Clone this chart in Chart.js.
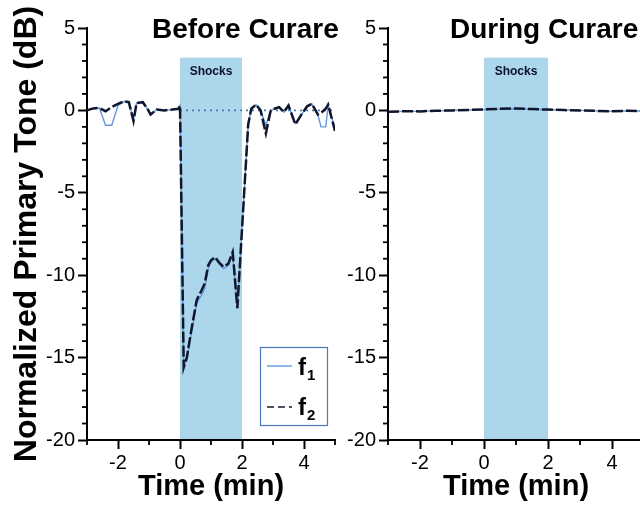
<!DOCTYPE html>
<html>
<head>
<meta charset="utf-8">
<script src="https://cdn.jsdelivr.net/npm/chart.js@4.4.1/dist/chart.umd.min.js"></script>
<style>
    html, body { margin: 0; padding: 0; background: #fff; overflow: hidden; }
    #wrap { position: relative; width: 640px; height: 505px; overflow: hidden; }
    .panel { position: absolute; top: 0; }
    #antes { left: 0; }
    #durante { left: 345px; }
</style>
</head>
<body>
<div id="wrap">
    <canvas id="antes" class="panel" width="345" height="505"></canvas>
    <canvas id="durante" class="panel" width="305" height="505"></canvas>
</div>
<script>
// datos (tiempo en min, tono en dB)
const tiempoAntes = [-3.0, -2.8, -2.6, -2.4, -2.2, -2.0, -1.8, -1.65, -1.5, -1.4,
    -1.2, -1.05, -0.95, -0.75, -0.5, -0.25, -0.05, 0.0, 0.12, 0.22,
    0.35, 0.54, 0.7, 0.8, 0.91, 1.0, 1.13, 1.25, 1.4, 1.56,
    1.7, 1.85, 2.2, 2.3, 2.45, 2.6, 2.77, 2.92, 3.05, 3.2,
    3.35, 3.5, 3.72, 3.9, 4.1, 4.25, 4.45, 4.55, 4.7, 4.78, 5.0];
const f1Antes = [0.0, 0.12, 0.15, -0.9, -0.9, 0.3, 0.55, 0.5, -0.55, 0.45,
    0.5, 0.1, -0.25, 0.05, 0.0, 0.05, 0.1, 0.3, -15.5, -15.1,
    -13.7, -11.7, -11.2, -10.8, -9.6, -9.2, -9.0, -9.3, -9.6, -9.4,
    -8.7, -12.0, -0.85, 0.1, 0.35, 0.0, -0.9, -0.05, 0.1, 0.2,
    -0.1, 0.3, -0.8, -0.3, 0.25, 0.4, -0.3, -1.0, -1.0, 0.3, -1.1];
const f2Antes = [0.0, 0.12, 0.15, -0.05, 0.2, 0.4, 0.55, 0.5, -0.65, 0.45,
    0.5, 0.1, -0.25, 0.05, 0.0, 0.05, 0.1, 0.3, -15.6, -15.0,
    -13.5, -11.5, -10.9, -10.5, -9.4, -9.1, -8.9, -9.2, -9.5, -9.3,
    -8.6, -12.0, -0.85, 0.1, 0.35, 0.0, -1.4, -0.05, 0.1, 0.2,
    -0.1, 0.3, -0.85, -0.3, 0.25, 0.4, -0.25, -0.15, 0.1, 0.35, -1.25];

const tiempoDurante = [-3.0, -2.5, -2.0, -1.5, -1.0, -0.5, 0.0, 0.5, 1.0, 1.5,
    2.0, 2.5, 3.0, 3.5, 4.0, 4.5, 5.0];
const f1Durante = [-0.08, -0.06, -0.06, -0.03, -0.01, 0.02, 0.05, 0.08, 0.1, 0.07,
    0.04, 0.02, 0.0, -0.03, -0.05, -0.03, -0.04];
const f2Durante = [-0.08, -0.05, -0.06, -0.02, 0.0, 0.03, 0.06, 0.1, 0.12, 0.08,
    0.05, 0.02, 0.0, -0.03, -0.05, -0.02, -0.04];

const lineaCeroX = [0, 5];
const lineaCeroY = [0, 0];

const zonaShock = [0, 2];
const topeShock = 3.2;

const colorF1 = '#6198dc';
const colorF2 = '#10162c';
const fuente = '"Liberation Sans", Arial, Helvetica, sans-serif';

const puntos = (xs, ys) => xs.map((t, i) => ({ x: t, y: ys[i] }));

const decoraciones = {
    id: 'decoraciones',
    beforeDatasetsDraw(chart) {
        const { ctx, scales: { x, y } } = chart;
        const x0 = x.getPixelForValue(zonaShock[0]);
        const x1 = x.getPixelForValue(zonaShock[1]);
        const yTop = y.getPixelForValue(topeShock);
        const yBot = y.getPixelForValue(y.min) - 1;
        ctx.save();
        ctx.fillStyle = '#acd6eb';
        ctx.fillRect(x0, yTop, x1 - x0, yBot - yTop);
        ctx.fillStyle = '#0a1030';
        ctx.font = 'bold 12px ' + fuente;
        ctx.textAlign = 'center';
        ctx.textBaseline = 'middle';
        ctx.fillText('Shocks', (x0 + x1) / 2, yTop + 14);
        ctx.restore();
    },
    afterDraw(chart, args, opts) {
        const { ctx, scales: { x, y } } = chart;
        ctx.save();
        // ticks menores
        ctx.strokeStyle = '#000';
        ctx.lineWidth = 1.8;
        [x, y].forEach(s => {
            s.ticks.forEach(t => {
                if (t.label !== '') return;
                const p = s.getPixelForValue(t.value);
                ctx.beginPath();
                if (s.isHorizontal()) {
                    ctx.moveTo(p, s.top);
                    ctx.lineTo(p, s.top + 5);
                } else {
                    ctx.moveTo(s.right, p);
                    ctx.lineTo(s.right - 5, p);
                }
                ctx.stroke();
            });
        });
        // titulo del panel
        ctx.fillStyle = '#000';
        ctx.font = 'bold 28px ' + fuente;
        ctx.textAlign = 'left';
        ctx.textBaseline = 'alphabetic';
        ctx.fillText(opts.titulo, opts.tituloX, opts.tituloY);
        // leyenda
        if (opts.leyenda) {
            ctx.strokeStyle = '#4a78c0';
            ctx.lineWidth = 1.2;
            ctx.strokeRect(260.5, 347.5, 67, 78);
            ctx.beginPath();
            ctx.strokeStyle = colorF1;
            ctx.lineWidth = 1.4;
            ctx.moveTo(267, 366);
            ctx.lineTo(292, 366);
            ctx.stroke();
            ctx.beginPath();
            ctx.setLineDash([7, 4]);
            ctx.strokeStyle = colorF2;
            ctx.lineWidth = 1.6;
            ctx.moveTo(267, 407);
            ctx.lineTo(292, 407);
            ctx.stroke();
            ctx.setLineDash([]);
            ctx.fillStyle = '#000';
            ctx.font = 'bold 24px ' + fuente;
            ctx.fillText('f', 298, 375);
            ctx.fillText('f', 298, 415);
            ctx.font = 'bold 15px ' + fuente;
            ctx.fillText('1', 307, 380);
            ctx.fillText('2', 307, 420);
        }
        ctx.restore();
    }
};

const crearPanel = (canvas, cfg) => {
    const datasets = [
        {
            label: 'f2',
            data: puntos(cfg.tiempo, cfg.f2),
            borderColor: colorF2,
            borderWidth: 2.5,
            borderDash: [11, 3],
            pointRadius: 0,
            tension: 0,
            order: 0
        },
        {
            label: 'f1',
            data: puntos(cfg.tiempo, cfg.f1),
            borderColor: colorF1,
            borderWidth: 1.4,
            pointRadius: 0,
            tension: 0,
            order: 1
        }
    ];
    if (cfg.ceroPunteado) {
        datasets.push({
            label: 'cero',
            data: puntos(lineaCeroX, lineaCeroY),
            borderColor: '#4a78c0',
            borderWidth: 1.6,
            borderDash: [2, 4],
            pointRadius: 0,
            order: 2
        });
    }

    const tickColor = paso => c => (c.tick && c.tick.value % paso === 0) ? '#000' : 'rgba(0,0,0,0)';

    return new Chart(canvas, {
        type: 'line',
        data: { datasets },
        options: {
            responsive: false,
            animation: false,
            events: [],
            layout: { padding: { top: 28, right: cfg.padDer, left: 0, bottom: 0 } },
            plugins: {
                legend: { display: false },
                tooltip: { enabled: false },
                decoraciones: {
                    titulo: cfg.titulo,
                    tituloX: cfg.tituloX,
                    tituloY: 38,
                    leyenda: cfg.leyenda
                }
            },
            scales: {
                x: {
                    type: 'linear',
                    min: -3,
                    max: 5,
                    ticks: {
                        stepSize: 1,
                        autoSkip: false,
                        maxRotation: 0,
                        padding: 2,
                        color: '#000',
                        font: { family: fuente, size: 20 },
                        callback: v => (v % 2 === 0 ? String(v) : '')
                    },
                    grid: {
                        drawOnChartArea: false,
                        drawTicks: true,
                        tickLength: 9,
                        tickWidth: 2,
                        tickColor: tickColor(2)
                    },
                    border: { color: '#000', width: 2 },
                    title: {
                        display: true,
                        text: 'Time (min)',
                        color: '#000',
                        font: { family: fuente, size: 29, weight: 'bold' },
                        padding: { top: 0, bottom: 1 }
                    },
                    afterFit: s => { s.height = 65; }
                },
                y: {
                    min: -20,
                    max: 5,
                    ticks: {
                        stepSize: 1,
                        autoSkip: false,
                        padding: 3,
                        color: '#000',
                        font: { family: fuente, size: 20 },
                        callback: v => (v % 5 === 0 ? String(v) : '')
                    },
                    grid: {
                        drawOnChartArea: false,
                        drawTicks: true,
                        tickLength: 9,
                        tickWidth: 2,
                        tickColor: tickColor(5)
                    },
                    border: { color: '#000', width: 2 },
                    title: {
                        display: cfg.tituloY,
                        text: 'Normalized Primary Tone (dB)',
                        color: '#000',
                        font: { family: fuente, size: 32, weight: 'bold' },
                        padding: { top: 8, bottom: 0 }
                    },
                    afterFit: s => { s.width = cfg.anchoY; }
                }
            }
        },
        plugins: [decoraciones]
    });
};

crearPanel(document.getElementById('antes'), {
    tiempo: tiempoAntes, f1: f1Antes, f2: f2Antes,
    titulo: 'Before Curare', tituloX: 152,
    tituloY: true, anchoY: 87, padDer: 10,
    leyenda: true, ceroPunteado: true
});

crearPanel(document.getElementById('durante'), {
    tiempo: tiempoDurante, f1: f1Durante, f2: f2Durante,
    titulo: 'During Curare', tituloX: 105,
    tituloY: false, anchoY: 43, padDer: 6,
    leyenda: false, ceroPunteado: false
});
</script>
</body>
</html>
